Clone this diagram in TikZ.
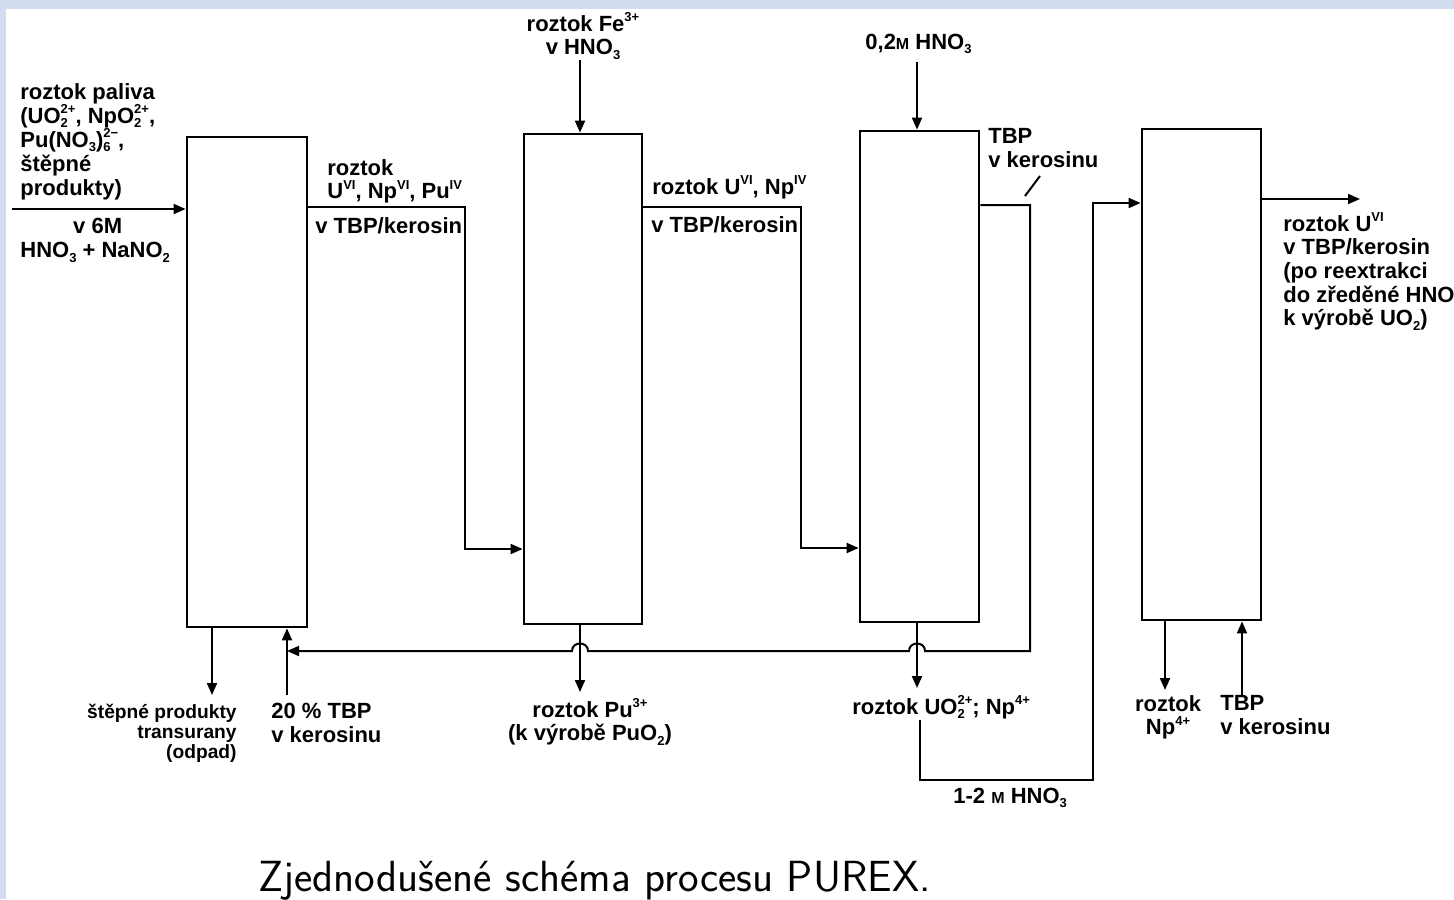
\documentclass[tikz,border=0pt]{standalone}
\usepackage{fontspec}
\setmainfont{Liberation Sans}
\usetikzlibrary{arrows.meta}
\definecolor{frame}{RGB}{210,222,240}
\newcommand\sps[1]{\raisebox{0.85ex}{\fontsize{6.5}{6.5}\selectfont #1}}
\newcommand\sbs[1]{\raisebox{-0.4ex}{\fontsize{6.5}{6.5}\selectfont #1}}
\newcommand\ssb[2]{\rlap{\sbs{#1}}\sps{#2}}
\newcommand\smM{{\footnotesize M}}
\begin{document}
\begin{tikzpicture}[x=0.5pt,y=-0.5pt,
  lbl/.style={font=\fontsize{11}{11.8}\selectfont\bfseries, inner sep=0pt, align=left},
  lbls/.style={font=\fontsize{9.6}{10}\selectfont\bfseries, inner sep=0pt, align=right},
  box/.style={draw, line width=1.4pt, inner sep=0pt},
  ln/.style={line width=1pt},
  arr/.style={ln, -{Triangle[length=6pt,width=5pt]}}]
\fill[frame] (0,0) rectangle (1454,899);
\fill[white] (6,9) rectangle (1454,899);
\useasboundingbox (0,0) rectangle (1454,899);
% boxes
\node[box, minimum width=60pt, minimum height=245pt] (b1) at (247,382) {};
\node[box, minimum width=59pt, minimum height=245pt] (b2) at (583,379) {};
\node[box, minimum width=59.5pt, minimum height=245.5pt] (b3) at (919.5,376.5) {};
\node[box, minimum width=59.5pt, minimum height=245.5pt] (b4) at (1201.5,374.5) {};
% labels
\node[lbl, font=\fontsize{11}{12}\selectfont\bfseries, anchor=north west] (tin) at (20,83) {roztok paliva\\(UO\ssb{2}{2+}, NpO\ssb{2}{2+},\\Pu(NO\sbs{3})\ssb{6}{2−},\\štěpné\\produkty)};
\node[lbl, anchor=north west] (tin2) at (20,218) {\hspace*{2.4em}v 6M\\HNO\sbs{3} + NaNO\sbs{2}};
\node[lbl, anchor=north west] (t1a) at (327,159) {roztok\\U\sps{VI}, Np\sps{VI}, Pu\sps{IV}};
\node[lbl, anchor=west] (t1b) at (315,226) {v TBP/kerosin};
\node[lbl, anchor=north, align=center] (tfe) at (583,12) {roztok Fe\sps{3+}\\v HNO\sbs{3}};
\node[lbl, anchor=west] (t2a) at (652,187) {roztok U\sps{VI}, Np\sps{IV}};
\node[lbl, anchor=west] (t2b) at (651,225) {v TBP/kerosin};
\node[lbl, anchor=west] (thn) at (865,44) {0,2\smM{} HNO\sbs{3}};
\node[lbl, anchor=north west] (ttbp) at (988,128) {TBP\\v kerosinu};
\node[lbl, anchor=north west] (tout) at (1283,212) {roztok U\sps{VI}\\v TBP/kerosin\\(po reextrakci\\do zředěné HNO\\k výrobě UO\sbs{2})};
\node[lbls, anchor=north east] (tw) at (237,704) {štěpné produkty\\transurany\\(odpad)};
\node[lbl, anchor=north west] (t20) at (271,703) {20 \% TBP\\v kerosinu};
\node[lbl, anchor=north, align=center] (tpu) at (590,698) {roztok Pu\sps{3+}\\(k výrobě PuO\sbs{2})};
\node[lbl, anchor=west] (tuo) at (852,707) {roztok UO\ssb{2}{2+}; Np\sps{4+}};
\node[lbl, anchor=west] (th12) at (953,798) {1-2 \smM{} HNO\sbs{3}};
\node[lbl, anchor=north, align=center] (tnp) at (1168,695) {roztok\\Np\sps{4+}};
\node[lbl, anchor=north west] (ttbp2) at (1220,695) {TBP\\v kerosinu};
\node[font=\sffamily\fontsize{21.8}{26}\selectfont, inner sep=0pt, anchor=west] (cap) at (258,881) {Zjednodušené schéma procesu PUREX.};
% coordinates
\coordinate (src) at (12,209);
\coordinate (fe) at (580,60);
\coordinate (hn) at (917,62);
\coordinate (c1) at (465,207);
\coordinate (c2) at (465,549);
\coordinate (d1) at (801,207);
\coordinate (d2) at (801,548);
\coordinate (r1) at (1030,205);
\coordinate (r2) at (1030,651);
\coordinate (lead1) at (1040,176);
\coordinate (lead2) at (1025,196);
\coordinate (w1) at (212,695);
\coordinate (t20a) at (287,695);
\coordinate (pu) at (580,692);
\coordinate (uo) at (917,688);
\coordinate (h1) at (920,720);
\coordinate (h2) at (920,780);
\coordinate (h3) at (1093,780);
\coordinate (h4) at (1093,203);
\coordinate (o4) at (1360,199);
\coordinate (np) at (1165,690);
\coordinate (tb4) at (1242,695);
% connectors
\draw[arr] (src) -- (b1.west |- src);
\draw[arr] (b1.east |- c1) -- (c1) -- (c2) -- (b2.west |- c2);
\draw[arr] (fe) -- (fe |- b2.north);
\draw[arr] (b2.east |- d1) -- (d1) -- (d2) -- (b3.west |- d2);
\draw[arr] (hn) -- (hn |- b3.north);
\draw[arr] (b3.east |- r1) -- (r1) -- (r2) -- (925,651) .. controls (925,641) and (909,641) .. (909,651)
  -- (588,651) .. controls (588,641) and (572,641) .. (572,651) -- (t20a |- r2);
\draw[ln] (lead1) -- (lead2);
\draw[arr] (w1 |- b1.south) -- (w1);
\draw[arr] (t20a) -- (t20a |- b1.south);
\draw[arr] (pu |- b2.south) -- (pu);
\draw[arr] (uo |- b3.south) -- (uo);
\draw[arr] (h1) -- (h2) -- (h3) -- (h4) -- (b4.west |- h4);
\draw[arr] (b4.east |- o4) -- (o4);
\draw[arr] (np |- b4.south) -- (np);
\draw[arr] (tb4) -- (tb4 |- b4.south);
\end{tikzpicture}
\end{document}
